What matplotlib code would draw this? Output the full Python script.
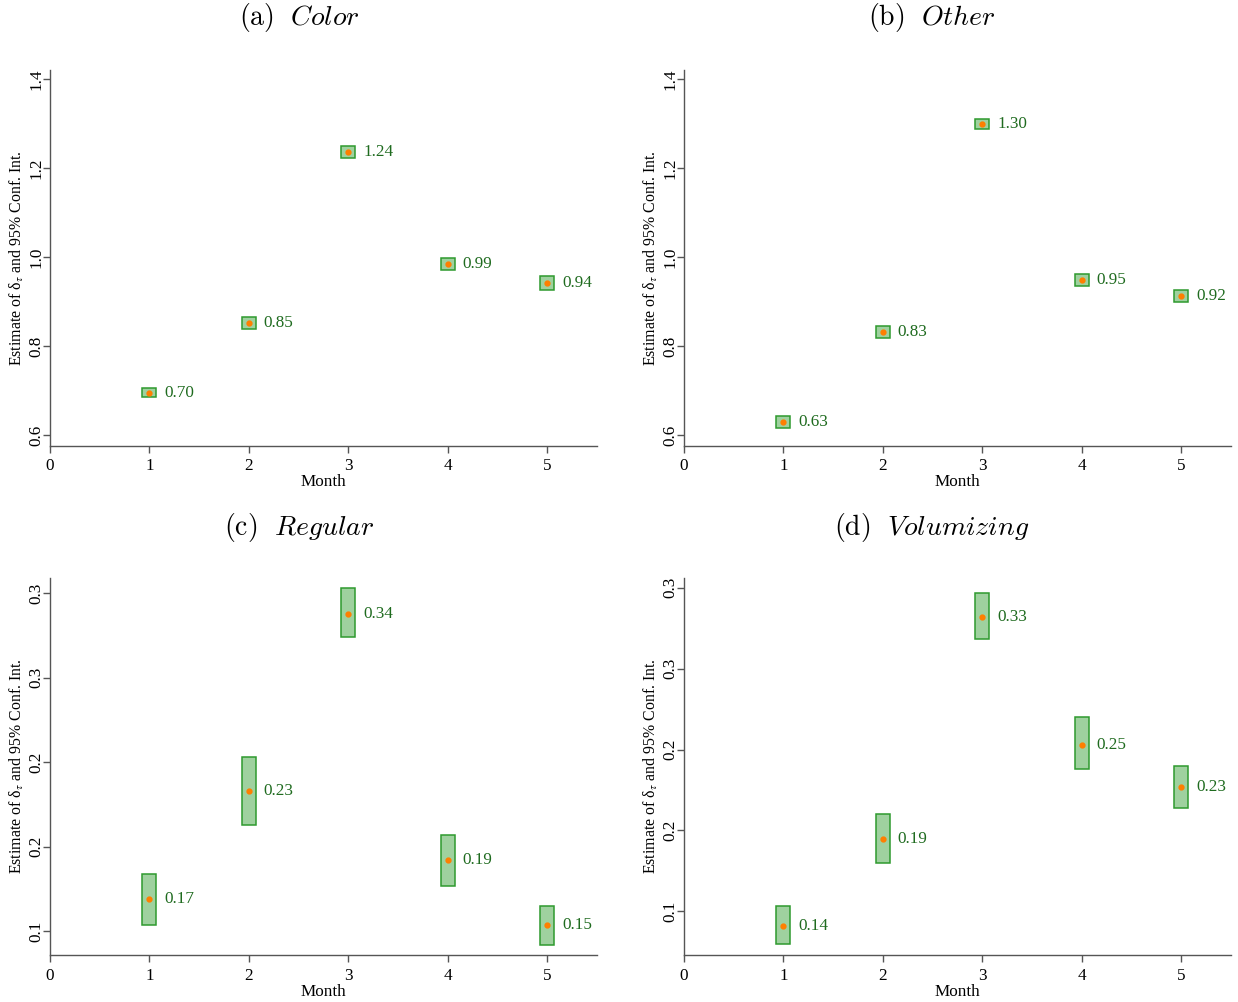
import matplotlib
matplotlib.use("Agg")
import matplotlib.pyplot as plt
from matplotlib.patches import Rectangle
from matplotlib.font_manager import FontProperties

months = [1, 2, 3, 4, 5]

# panel (a) Color
a_est = [0.694, 0.852, 1.236, 0.984, 0.942]
a_lo = [0.685, 0.838, 1.222, 0.971, 0.926]
a_hi = [0.705, 0.865, 1.249, 0.998, 0.957]
a_lab = ["0.70", "0.85", "1.24", "0.99", "0.94"]

# panel (b) Other
b_est = [0.629, 0.831, 1.299, 0.948, 0.913]
b_lo = [0.616, 0.818, 1.288, 0.935, 0.899]
b_hi = [0.643, 0.845, 1.310, 0.962, 0.926]
b_lab = ["0.63", "0.83", "1.30", "0.95", "0.92"]

# panel (c) Regular
c_est = [0.169, 0.233, 0.338, 0.192, 0.154]
c_lo = [0.154, 0.213, 0.324, 0.177, 0.142]
c_hi = [0.184, 0.253, 0.353, 0.207, 0.165]
c_lab = ["0.17", "0.23", "0.34", "0.19", "0.15"]

# panel (d) Volumizing
d_est = [0.141, 0.195, 0.332, 0.253, 0.227]
d_lo = [0.130, 0.180, 0.318, 0.238, 0.214]
d_hi = [0.153, 0.210, 0.347, 0.270, 0.240]
d_lab = ["0.14", "0.19", "0.33", "0.25", "0.23"]

top_yticks = [0.6, 0.8, 1.0, 1.2, 1.4]
top_ylabels = ["0.6", "0.8", "1.0", "1.2", "1.4"]
bot_yticks = [0.15, 0.20, 0.25, 0.30, 0.35]
bot_ylabels = ["0.1", "0.2", "0.2", "0.3", "0.3"]
xticks = [0, 1, 2, 3, 4, 5]
xticklabels = ["0", "1", "2", "3", "4", "5"]

panels = [
    ("(a)", "Color", a_est, a_lo, a_hi, a_lab, top_yticks, top_ylabels, (0.575, 1.42)),
    ("(b)", "Other", b_est, b_lo, b_hi, b_lab, top_yticks, top_ylabels, (0.575, 1.42)),
    ("(c)", "Regular", c_est, c_lo, c_hi, c_lab, bot_yticks, bot_ylabels, (0.136, 0.359)),
    ("(d)", "Volumizing", d_est, d_lo, d_hi, d_lab, bot_yticks, bot_ylabels, (0.123, 0.356)),
]

W, H = 1238, 1002
fig = plt.figure(figsize=(W / 100, H / 100), dpi=100)

serif = ["Liberation Serif", "DejaVu Serif"]
# axes boxes in pixels: left, top, right, bottom
boxes = [(50, 70, 597, 446), (684, 70, 1231, 446),
         (50, 578, 597, 955), (684, 578, 1231, 955)]
title_x = [299, 932, 299, 932]
title_y = [18, 18, 527, 527]

box_face = "#9fd19f"
box_edge = "#2e9a2e"
dot_col = "#ff7f00"
txt_col = "#1f6b1f"
spine_col = "#555555"

for i, (tag, name, est, lo, hi, lab, yt, ytl, ylim) in enumerate(panels):
    l, t, r, b = boxes[i]
    ax = fig.add_axes([l / W, 1 - b / H, (r - l) / W, (b - t) / H])
    ax.set_xlim(0, 5.5)
    ax.set_ylim(*ylim)
    for m, e, lw_, hw_, s in zip(months, est, lo, hi, lab):
        ax.add_patch(Rectangle((m - 0.07, lw_), 0.14, hw_ - lw_,
                               facecolor=box_face, edgecolor=box_edge, lw=1.1, zorder=2))
        ax.plot([m], [e], "o", color=dot_col, ms=3.5, zorder=3)
        ax.text(m + 0.15, e, s, color=txt_col, fontsize=12.3, family=serif,
                va="center", ha="left")
    for sp in ["top", "right"]:
        ax.spines[sp].set_visible(False)
    for sp in ["left", "bottom"]:
        ax.spines[sp].set_color(spine_col)
        ax.spines[sp].set_linewidth(1.0)
    ax.set_xticks(xticks)
    ax.set_xticklabels(xticklabels, family=serif, fontsize=12.3)
    ax.set_yticks(yt)
    ax.set_yticklabels(ytl, family=serif, fontsize=12.3, rotation=90, va="center")
    ax.tick_params(axis="x", direction="out", length=5, width=1, color=spine_col, pad=4)
    ax.tick_params(axis="y", direction="out", length=5, width=1, color=spine_col, pad=-1)
    ax.set_xlabel("Month", family=serif, fontsize=12.3, labelpad=0)
    ax.set_ylabel(r"Estimate of δ$_\tau$ and 95% Conf. Int.", labelpad=2)
    ax.yaxis.label.set_fontproperties(FontProperties(family=serif, size=11.4,
                                                     math_fontfamily="stix"))
    fig.text(title_x[i] / W, 1 - title_y[i] / H,
             r"$\mathrm{" + tag + r"}\ \ \mathit{" + name + "}$",
             fontproperties=FontProperties(size=20, math_fontfamily="cm"),
             ha="center", va="center")

fig.savefig("out.png", dpi=100, facecolor="white")
